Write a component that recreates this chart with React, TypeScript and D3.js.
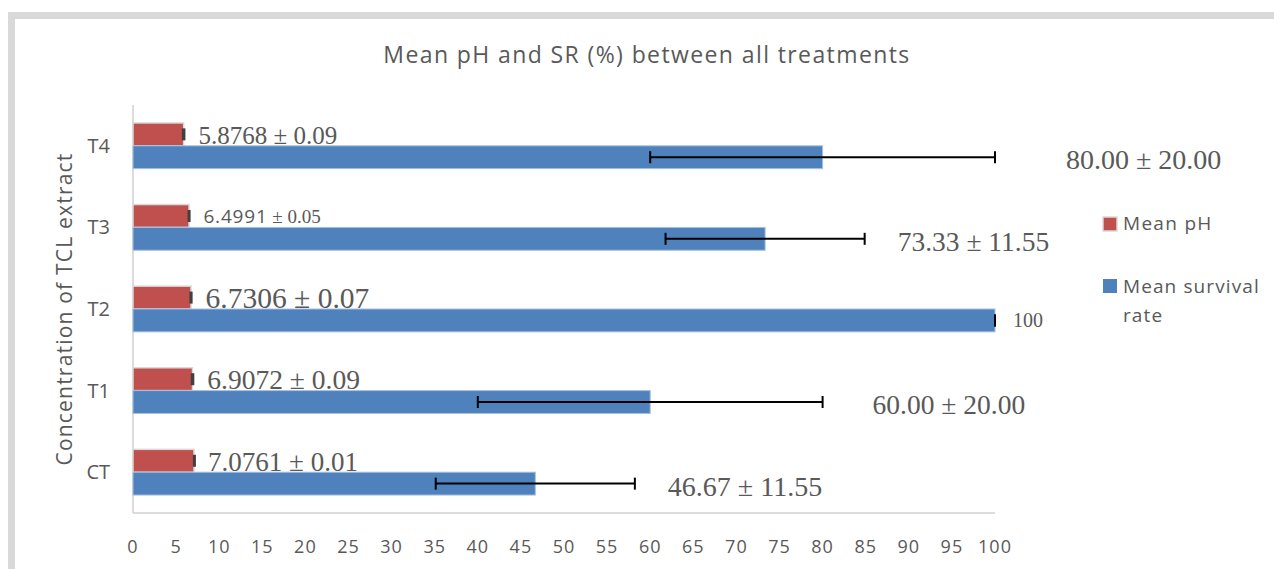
import React from 'react';
import * as d3 from 'd3';

const categories = ['T4', 'T3', 'T2', 'T1', 'CT'];
const phMeans = [5.8768, 6.4991, 6.7306, 6.9072, 7.0761];
const phErrors = [0.09, 0.05, 0.07, 0.09, 0.01];
const survivalMeans = [80, 73.33, 100, 60, 46.67];
const survivalErrors = [20, 11.55, 0, 20, 11.55];
const phLabels = ['5.8768 ± 0.09', '6.4991 ± 0.05', '6.7306 ± 0.07', '6.9072 ± 0.09', '7.0761 ± 0.01'];
const survivalLabels = ['80.00 ± 20.00', '73.33 ± 11.55', '100', '60.00 ± 20.00', '46.67 ± 11.55'];
const xTicks = d3.range(0, 101, 5);

// hand placed labels in the original, so offsets + sizes kept per row
const survivalLabelDx = [71, 33, 18, 50, 33];
const survivalLabelSize = [28, 27.5, 20, 27.5, 28];
const phLabelSize = [25, 19, 29.5, 27.5, 27];

const W = 1274;
const H = 569;
const textColor = '#595959';
const sans = '"Open Sans", sans-serif';
const serif = '"Liberation Serif", serif';

export default function App() {
  const x = d3.scaleLinear().domain([0, 100]).range([133, 995]);
  const y = d3.scaleBand().domain(categories).range([105, 513]).paddingInner(0.44).paddingOuter(0.22);
  const bh = y.bandwidth() / 2;

  return (
    <svg width={W} height={H} style={{ position: 'absolute', left: 0, top: 0 }}>
      <rect width={W} height={H} fill="#fff" />
      {/* chart frame, only left and top edges visible */}
      <rect x={11.5} y={15.5} width={W + 20} height={H + 20} fill="#fff" stroke="#d9d9d9" strokeWidth={7} />

      <text x={647} y={63} textAnchor="middle" fontFamily={sans} fontSize={23} letterSpacing={1.4} fill={textColor}>
        Mean pH and SR (%) between all treatments
      </text>

      {/* axes */}
      <line x1={x(0)} x2={x(0)} y1={105} y2={513} stroke="#d0d0d0" strokeWidth={1.5} />
      <line x1={x(0)} x2={x(100)} y1={513} y2={513} stroke="#d0d0d0" strokeWidth={1.5} />
      {xTicks.map((t) => (
        <text key={t} x={x(t)} y={553} textAnchor="middle" fontFamily={sans} fontSize={18} letterSpacing={1} fill={textColor}>
          {t}
        </text>
      ))}
      {categories.map((c) => (
        <text key={c} x={110} y={(y(c) ?? 0) + bh + 7} textAnchor="end" fontFamily={sans} fontSize={20} fill={textColor}>
          {c}
        </text>
      ))}
      <text
        transform={`translate(72,${309}) rotate(-90)`}
        textAnchor="middle"
        fontFamily={sans}
        fontSize={21}
        letterSpacing={1.2}
        fill={textColor}
      >
        Concentration of TCL extract
      </text>

      {categories.map((c, i) => {
        const y0 = y(c) ?? 0;
        const yb = y0 + bh;
        const cy = yb + bh / 2;
        const lo = survivalMeans[i] - survivalErrors[i];
        const hi = survivalMeans[i] + survivalErrors[i];
        return (
          <g key={c}>
            <rect x={x(0)} y={y0} width={x(phMeans[i]) - x(0)} height={bh} fill="#c0504d" stroke="#d9d9d9" strokeWidth={1.5} />
            <rect
              x={x(phMeans[i] - phErrors[i]) - 1}
              y={y0 + bh / 2 - 6}
              width={Math.max(x(phMeans[i] + phErrors[i]) - x(phMeans[i] - phErrors[i]), 1) + 2}
              height={12}
              fill="#404040"
            />
            <rect x={x(0)} y={yb} width={x(survivalMeans[i]) - x(0)} height={bh} fill="#4f81bd" stroke="#a6c0e0" strokeWidth={1} />
            <line x1={x(lo)} x2={x(hi)} y1={cy} y2={cy} stroke="#000" strokeWidth={2} />
            <line x1={x(lo)} x2={x(lo)} y1={cy - 6} y2={cy + 6} stroke="#000" strokeWidth={2} />
            <line x1={x(hi)} x2={x(hi)} y1={cy - 6} y2={cy + 6} stroke="#000" strokeWidth={2} />

            {i === 1 ? (
              // this one label mixes a sans number with a serif "± 0.05" in the original
              <text
                x={x(phMeans[i] + phErrors[i]) + 14}
                y={y0 + bh / 2 + 7}
                fill={textColor}
                style={{ fontFamily: sans, fontSize: '19px' }}
              >
                <tspan style={{ letterSpacing: '0.8px' }}>{phLabels[i].split(' ± ')[0]}</tspan>
                <tspan style={{ fontFamily: serif, fontSize: '19px' }}>{' ± ' + phLabels[i].split(' ± ')[1]}</tspan>
              </text>
            ) : (
              <text x={x(phMeans[i] + phErrors[i]) + 14} y={y0 + bh / 2 + 10} fontFamily={serif} fontSize={phLabelSize[i]} fill={textColor}>
                {phLabels[i]}
              </text>
            )}
            <text
              x={x(hi) + survivalLabelDx[i]}
              y={cy + (i === 2 ? 7 : 12)}
              fontFamily={serif}
              fontSize={survivalLabelSize[i]}
              fill={textColor}
            >
              {survivalLabels[i]}
            </text>
          </g>
        );
      })}

      {/* legend */}
      <rect x={1103} y={217} width={14} height={14} fill="#c0504d" stroke="#d9d9d9" strokeWidth={1.5} />
      <text x={1123} y={230} fontFamily={sans} fontSize={19} letterSpacing={1.3} fill={textColor}>Mean pH</text>
      <rect x={1103} y={279} width={14} height={14} fill="#4f81bd" />
      <text x={1123} y={293} fontFamily={sans} fontSize={19} letterSpacing={1.1} fill={textColor}>Mean survival</text>
      <text x={1123} y={322} fontFamily={sans} fontSize={19} letterSpacing={1.1} fill={textColor}>rate</text>
    </svg>
  );
}
